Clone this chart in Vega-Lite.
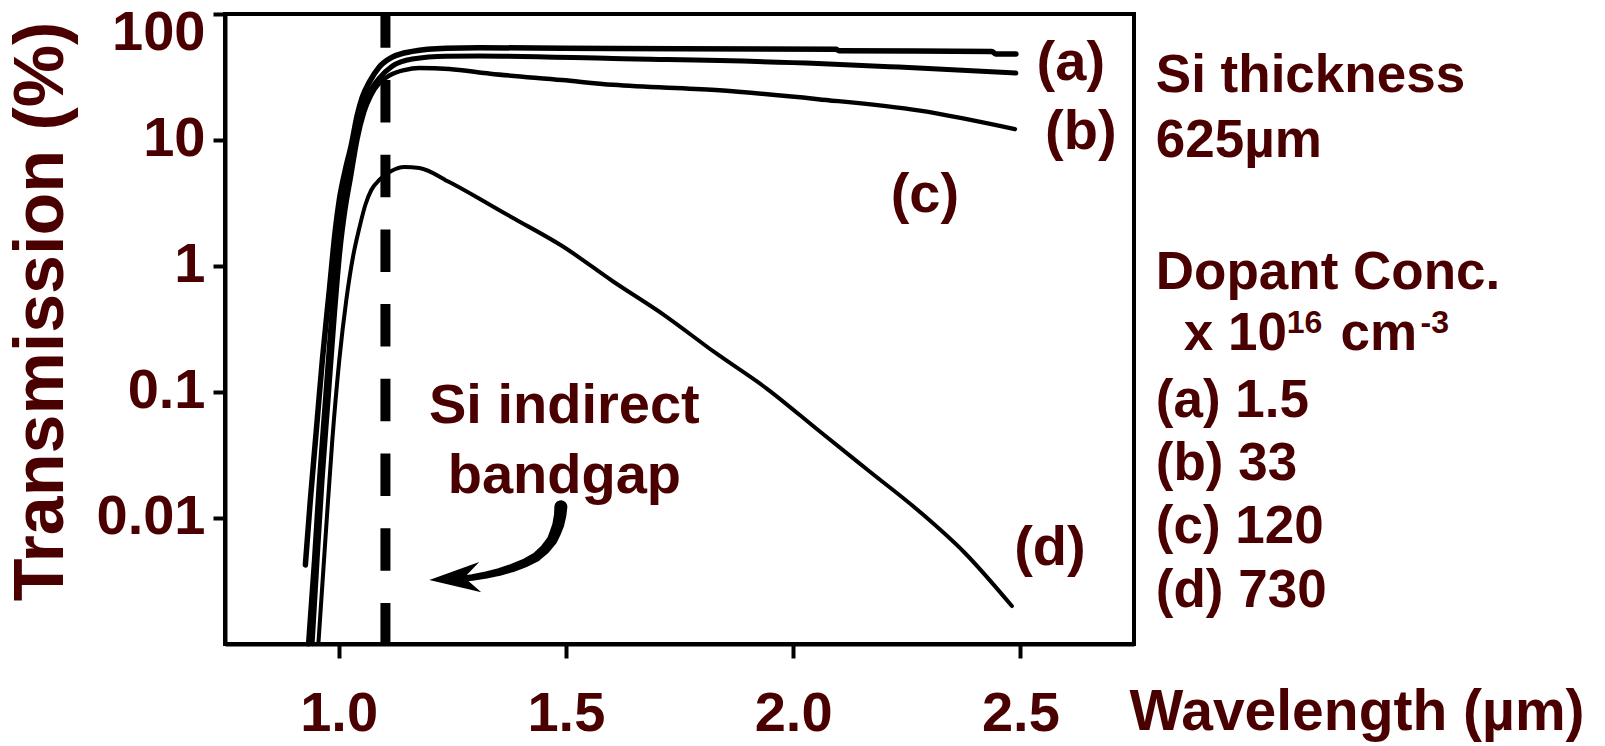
{
  "$schema": "https://vega.github.io/schema/vega-lite/v6.json",
  "width": 909,
  "height": 630,
  "autosize": {"type": "none"},
  "padding": {"left": 225, "top": 14, "right": 471, "bottom": 102},
  "background": "white",
  "config": {
    "view": {"stroke": "black", "strokeWidth": 4},
    "font": "Liberation Sans",
    "axis": {
      "grid": false,
      "domainColor": "black",
      "domainWidth": 4,
      "tickColor": "black",
      "tickWidth": 4,
      "labelFont": "Liberation Sans",
      "labelFontWeight": "bold",
      "labelColor": "#4a0000",
      "titleFont": "Liberation Sans",
      "titleFontWeight": "bold",
      "titleColor": "#4a0000"
    },
    "text": {"font": "Liberation Sans", "fontWeight": "bold", "color": "#4a0000"}
  },
  "datasets": {
    "curves": [
      {"s": "a", "x": 0.9268, "y": 0.00424}, {"s": "a", "x": 0.9378, "y": 0.0139}, {"s": "a", "x": 0.951, "y": 0.0499}, {"s": "a", "x": 0.9642, "y": 0.1795}, {"s": "a", "x": 0.9796, "y": 0.645}, {"s": "a", "x": 0.9927, "y": 1.93}, {"s": "a", "x": 1.0015, "y": 3.34}, {"s": "a", "x": 1.0147, "y": 5.78}, {"s": "a", "x": 1.0279, "y": 9.12}, {"s": "a", "x": 1.0411, "y": 15.8}, {"s": "a", "x": 1.0521, "y": 21.9}, {"s": "a", "x": 1.0675, "y": 28.8}, {"s": "a", "x": 1.0895, "y": 38.0}, {"s": "a", "x": 1.1181, "y": 45.5}, {"s": "a", "x": 1.162, "y": 50.5}, {"s": "a", "x": 1.2368, "y": 53.5}, {"s": "a", "x": 1.3094, "y": 54.0}, {"s": "a", "x": 1.604, "y": 53.2}, {"s": "a", "x": 2.0943, "y": 52.5}, {"s": "a", "x": 2.1009, "y": 51.2}, {"s": "a", "x": 2.4373, "y": 50.4}, {"s": "a", "x": 2.4461, "y": 48.2}, {"s": "a", "x": 2.4901, "y": 48.2},
      {"s": "b", "x": 0.9334, "y": 0.001}, {"s": "b", "x": 0.9466, "y": 0.00464}, {"s": "b", "x": 0.9576, "y": 0.02}, {"s": "b", "x": 0.9708, "y": 0.0864}, {"s": "b", "x": 0.9839, "y": 0.373}, {"s": "b", "x": 0.9971, "y": 1.34}, {"s": "b", "x": 1.0103, "y": 3.34}, {"s": "b", "x": 1.0235, "y": 6.34}, {"s": "b", "x": 1.0367, "y": 10.97}, {"s": "b", "x": 1.0499, "y": 17.3}, {"s": "b", "x": 1.0675, "y": 24.0}, {"s": "b", "x": 1.0895, "y": 31.0}, {"s": "b", "x": 1.1181, "y": 38.6}, {"s": "b", "x": 1.162, "y": 44.0}, {"s": "b", "x": 1.2368, "y": 46.3}, {"s": "b", "x": 1.3094, "y": 46.5}, {"s": "b", "x": 1.604, "y": 44.3}, {"s": "b", "x": 2.0543, "y": 40.5}, {"s": "b", "x": 2.2325, "y": 37.9}, {"s": "b", "x": 2.4901, "y": 34.0},
      {"s": "c", "x": 0.9422, "y": 0.001}, {"s": "c", "x": 0.9532, "y": 0.00464}, {"s": "c", "x": 0.9642, "y": 0.02}, {"s": "c", "x": 0.9774, "y": 0.0864}, {"s": "c", "x": 0.9905, "y": 0.373}, {"s": "c", "x": 1.0037, "y": 1.34}, {"s": "c", "x": 1.0147, "y": 2.78}, {"s": "c", "x": 1.0279, "y": 5.27}, {"s": "c", "x": 1.0411, "y": 10}, {"s": "c", "x": 1.0565, "y": 16.7}, {"s": "c", "x": 1.0719, "y": 22.8}, {"s": "c", "x": 1.0895, "y": 28.3}, {"s": "c", "x": 1.1137, "y": 32.8}, {"s": "c", "x": 1.1445, "y": 35.9}, {"s": "c", "x": 1.1775, "y": 37.3}, {"s": "c", "x": 1.2434, "y": 36.6}, {"s": "c", "x": 1.3336, "y": 33.6}, {"s": "c", "x": 1.4919, "y": 29.9}, {"s": "c", "x": 1.604, "y": 27.4}, {"s": "c", "x": 1.8294, "y": 24.9}, {"s": "c", "x": 2.0548, "y": 21.1}, {"s": "c", "x": 2.279, "y": 17.1}, {"s": "c", "x": 2.4879, "y": 12.2},
      {"s": "d", "x": 0.9554, "y": 0.001}, {"s": "d", "x": 0.9708, "y": 0.00669}, {"s": "d", "x": 0.9861, "y": 0.0416}, {"s": "d", "x": 1.0015, "y": 0.1795}, {"s": "d", "x": 1.0169, "y": 0.537}, {"s": "d", "x": 1.0323, "y": 1.22}, {"s": "d", "x": 1.0455, "y": 2.0}, {"s": "d", "x": 1.0587, "y": 3.05}, {"s": "d", "x": 1.0719, "y": 4.01}, {"s": "d", "x": 1.0895, "y": 4.82}, {"s": "d", "x": 1.1159, "y": 5.68}, {"s": "d", "x": 1.1445, "y": 6.11}, {"s": "d", "x": 1.1775, "y": 6.0}, {"s": "d", "x": 1.2434, "y": 4.64}, {"s": "d", "x": 1.3336, "y": 3.05}, {"s": "d", "x": 1.3797, "y": 2.45}, {"s": "d", "x": 1.4919, "y": 1.44}, {"s": "d", "x": 1.604, "y": 0.753}, {"s": "d", "x": 1.7162, "y": 0.408}, {"s": "d", "x": 1.8294, "y": 0.204}, {"s": "d", "x": 1.9426, "y": 0.106}, {"s": "d", "x": 2.0548, "y": 0.0499}, {"s": "d", "x": 2.1669, "y": 0.0236}, {"s": "d", "x": 2.279, "y": 0.01117}, {"s": "d", "x": 2.3758, "y": 0.00537}, {"s": "d", "x": 2.4813, "y": 0.002}
    ],
    "gap": [{"x": 1.103, "y": 100, "y2": 0.001}],
    "curveLabels": [
      {"x": 2.611, "y": 40.8, "t": "(a)"},
      {"x": 2.633, "y": 11.58, "t": "(b)"},
      {"x": 2.29, "y": 3.66, "t": "(c)"},
      {"x": 2.565, "y": 0.00578, "t": "(d)"}
    ],
    "bandgap": [
      {"x": 1.4966, "y": 0.0568, "t": "Si indirect"},
      {"x": 1.4966, "y": 0.01578, "t": "bandgap"}
    ],
    "rightText": [
      {"x": 2.798, "y": 24.04, "t": "Si thickness"},
      {"x": 2.798, "y": 7.33, "t": "625µm"},
      {"x": 2.798, "y": 0.657, "t": "Dopant Conc."},
      {"x": 2.8596, "y": 0.2154, "t": "x 10"},
      {"x": 3.2045, "y": 0.2154, "t": "cm"},
      {"x": 2.798, "y": 0.0634, "t": "(a) 1.5"},
      {"x": 2.798, "y": 0.02004, "t": "(b) 33"},
      {"x": 2.798, "y": 0.00634, "t": "(c) 120"},
      {"x": 2.798, "y": 0.001968, "t": "(d) 730"}
    ],
    "sup": [
      {"x": 3.086, "y": 0.294, "t": "16"},
      {"x": 3.3804, "y": 0.294, "t": "-3"}
    ],
    "arrow": [
      {"x": 1.489, "y": 0.0123, "o": 1},
      {"x": 1.4875, "y": 0.01056, "o": 2},
      {"x": 1.4831, "y": 0.0088, "o": 3},
      {"x": 1.4765, "y": 0.0076, "o": 4},
      {"x": 1.4699, "y": 0.00669, "o": 5},
      {"x": 1.4545, "y": 0.00568, "o": 6},
      {"x": 1.4347, "y": 0.0049, "o": 7},
      {"x": 1.4105, "y": 0.0044, "o": 8},
      {"x": 1.3819, "y": 0.00401, "o": 9},
      {"x": 1.3533, "y": 0.00373, "o": 10},
      {"x": 1.3247, "y": 0.00353, "o": 11},
      {"x": 1.294, "y": 0.00337, "o": 12},
      {"x": 1.2654, "y": 0.00328, "o": 13}
    ],
    "head": [{"x": 1.2567, "y": 0.00334}]
  },
  "encoding": {
    "x": {
      "field": "x",
      "type": "quantitative",
      "scale": {"domain": [0.75, 2.75], "nice": false, "zero": false},
      "axis": {
        "values": [1, 1.5, 2, 2.5],
        "format": ".1f",
        "title": "Wavelength (µm)",
        "tickSize": 14,
        "labelPadding": 28,
        "labelFontSize": 56,
        "labelFlush": false,
        "titleFontSize": 57,
        "titleX": 904,
        "titleY": 85,
        "titleAlign": "left",
        "titleBaseline": "alphabetic",
        "titleAngle": 0
      }
    },
    "y": {
      "field": "y",
      "type": "quantitative",
      "scale": {"type": "log", "domain": [0.001, 100], "nice": false},
      "axis": {
        "values": [0.01, 0.1, 1, 10, 100],
        "format": "~g",
        "title": "Transmission (%)",
        "tickSize": 12,
        "labelPadding": 8,
        "labelFontSize": 56,
        "labelFlush": false,
        "labelBaseline": "middle",
        "labelOffset": {"condition": {"test": "datum.value == 100", "value": 18}, "value": -2},
        "titleFontSize": 70,
        "titleX": -184,
        "titleY": 297,
        "titleAlign": "center",
        "titleBaseline": "middle",
        "titleAngle": -90
      }
    }
  },
  "layer": [
    {
      "data": {"name": "gap"},
      "mark": {"type": "rule", "color": "black", "strokeWidth": 10, "strokeDash": [42.5, 32.2], "strokeDashOffset": 8.7, "strokeCap": "butt"},
      "encoding": {
        "y": {"field": "y", "type": "quantitative"},
        "y2": {"field": "y2"}
      }
    },
    {
      "data": {"name": "curves"},
      "mark": {"type": "line", "color": "black", "interpolate": "monotone", "strokeCap": "round", "strokeJoin": "round"},
      "encoding": {
        "detail": {"field": "s"},
        "strokeWidth": {"field": "s", "type": "nominal", "scale": {"domain": ["a", "b", "c", "d"], "range": [5.5, 4, 4, 4]}, "legend": null}
      }
    },
    {
      "data": {"name": "arrow"},
      "mark": {"type": "trail", "color": "black"},
      "encoding": {
        "order": {"field": "o"},
        "size": {"field": "o", "type": "quantitative", "scale": {"domain": [1, 13], "range": [13, 6]}, "legend": null}
      }
    },
    {
      "data": {"name": "head"},
      "mark": {"type": "point", "filled": true, "color": "black", "opacity": 1, "size": 2704, "strokeWidth": 0, "shape": "M -1 0.08 L 0.92 -0.62 L 0.35 -0.02 L 1 0.55 Z"}
    },
    {
      "data": {"name": "curveLabels"},
      "mark": {"type": "text", "fontSize": 56, "align": "center", "baseline": "middle"},
      "encoding": {"text": {"field": "t"}}
    },
    {
      "data": {"name": "bandgap"},
      "mark": {"type": "text", "fontSize": 56, "align": "center", "baseline": "alphabetic"},
      "encoding": {"text": {"field": "t"}}
    },
    {
      "data": {"name": "rightText"},
      "mark": {"type": "text", "fontSize": 53, "align": "left", "baseline": "alphabetic"},
      "encoding": {"text": {"field": "t"}}
    },
    {
      "data": {"name": "sup"},
      "mark": {"type": "text", "fontSize": 32, "align": "left", "baseline": "alphabetic"},
      "encoding": {"text": {"field": "t"}}
    }
  ]
}
